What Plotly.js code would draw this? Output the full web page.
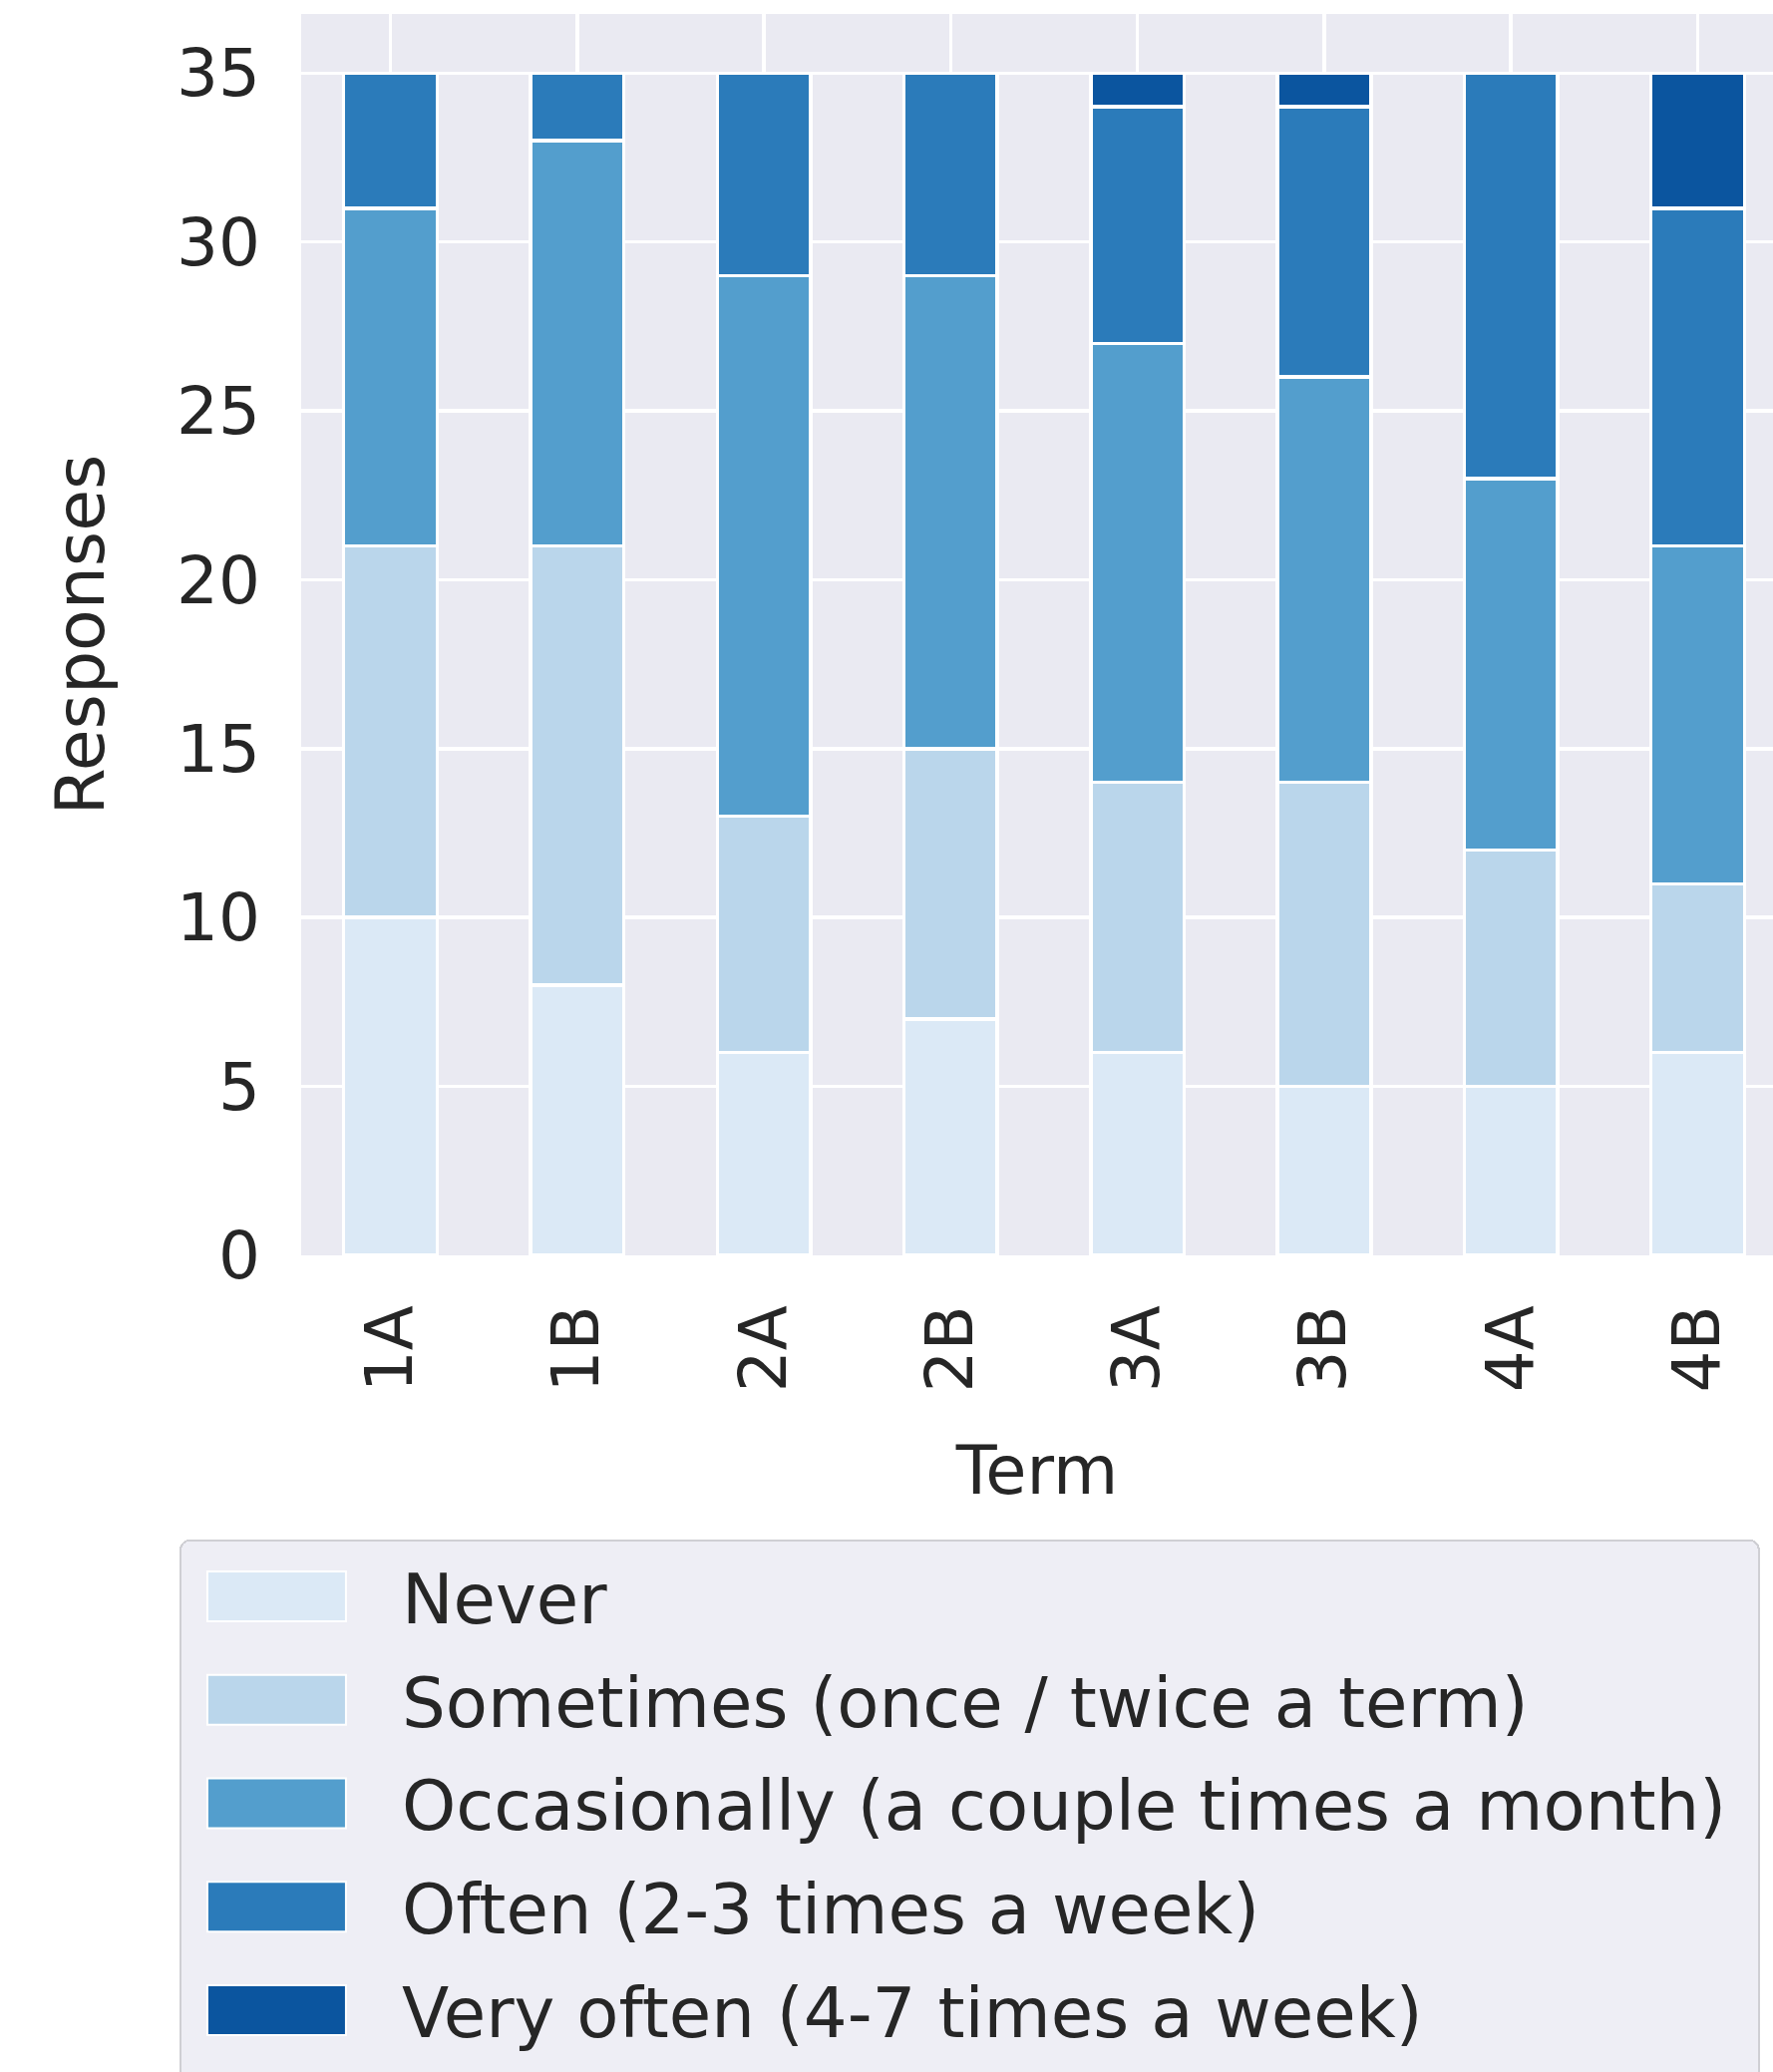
<!DOCTYPE html>
<html>
<head>
<meta charset="utf-8">
<script src="https://cdn.plot.ly/plotly-3.0.1.min.js"></script>
<style>
html,body{margin:0;padding:0;background:#ffffff;}
#chart{width:1778px;height:2078px;}
</style>
</head>
<body>
<div id="chart"></div>
<script>
// ---- data ----
const terms = ['1A', '1B', '2A', '2B', '3A', '3B', '4A', '4B'];
const seriesNames = [
  'Never',
  'Sometimes (once / twice a term)',
  'Occasionally (a couple times a month)',
  'Often (2-3 times a week)',
  'Very often (4-7 times a week)'
];
const never        = [10, 8, 6, 7, 6, 5, 5, 6];
const sometimes    = [11, 13, 7, 8, 8, 9, 7, 5];
const occasionally = [10, 12, 16, 14, 13, 12, 11, 10];
const often        = [4, 2, 6, 6, 7, 8, 12, 10];
const veryOften    = [0, 0, 0, 0, 1, 1, 0, 4];
const yTicks = [0, 5, 10, 15, 20, 25, 30, 35];

// ---- styles ----
const colors = ['#dbe9f6', '#bad6eb', '#539ecd', '#2b7bba', '#0b559f'];
const seriesValues = [never, sometimes, occasionally, often, veryOften];
const textColor = '#262626';
const fontFamily = 'DejaVu Sans, Liberation Sans, sans-serif';

const data = seriesValues.map((vals, i) => ({
  type: 'bar',
  name: seriesNames[i],
  x: terms,
  y: vals,
  legendgroup: 'g' + i,
  marker: {color: colors[i], line: {color: '#ffffff', width: 3.5}},
  hoverinfo: 'skip'
}));

const layout = {
  width: 1778,
  height: 2078,
  margin: {l: 302, r: 0, t: 14, b: 819, autoexpand: false},
  paper_bgcolor: '#ffffff',
  plot_bgcolor: '#eaeaf2',
  barmode: 'stack',
  bargap: 0.5,
  font: {family: fontFamily, color: textColor},
  xaxis: {
    type: 'category',
    range: [-0.478, 7.403],
    showgrid: true,
    gridcolor: '#ffffff',
    gridwidth: 3.5,
    zeroline: false,
    showline: false,
    ticks: '',
    tickangle: -90,
    tickfont: {size: 66, color: textColor, family: fontFamily},
    ticklabelstandoff: 36,
    automargin: false,
    title: {text: 'Term', font: {size: 67, color: textColor, family: fontFamily}, standoff: 55}
  },
  yaxis: {
    range: [0, 36.75],
    tickvals: yTicks,
    ticktext: yTicks.map(String),
    showgrid: true,
    gridcolor: '#ffffff',
    gridwidth: 3.5,
    zeroline: false,
    showline: false,
    ticks: '',
    tickfont: {size: 66, color: textColor, family: fontFamily},
    ticklabelstandoff: 40,
    automargin: false,
    title: {text: 'Responses', font: {size: 68, color: textColor, family: fontFamily}, standoff: 50}
  },
  showlegend: true,
  legend: {
    x: -0.0827,
    y: -0.2287,
    xanchor: 'left',
    yanchor: 'top',
    bgcolor: '#eeeef5',
    bordercolor: '#cfcfd4',
    borderwidth: 2,
    font: {size: 69, color: textColor, family: fontFamily},
    itemwidth: 211,
    traceorder: 'grouped',
    tracegroupgap: 11
  }
};

Plotly.newPlot('chart', data, layout, {staticPlot: true}).then(gd => {
  const bg = gd.querySelector('.legend .bg');
  if (!bg) return;
  bg.setAttribute('rx', 10);
  bg.setAttribute('ry', 10);
  const w = parseFloat(bg.getAttribute('width'));
  bg.setAttribute('width', w + 26);
  const h = parseFloat(bg.getAttribute('height'));
  bg.setAttribute('height', h + 60);
  const bgRect = bg.getBoundingClientRect();
  // shift legend entries down slightly so that rows sit where the reference puts them
  const scroll = gd.querySelector('.legend .scrollbox');
  gd.querySelectorAll('.legend .traces').forEach(tr => {
    const p = tr.querySelector('.legendpoints path');
    if (!p) return;
    p.setAttribute('d', 'M0,-25H139V25H0Z');
    const r = p.getBoundingClientRect();
    const dx = (bgRect.left + 27) - r.left;
    p.setAttribute('d', 'M' + dx + ',-25H' + (dx + 139) + 'V25H' + dx + 'Z');
    p.style.strokeWidth = '2px';
  });
  if (scroll) {
    const t = scroll.getAttribute('transform') || '';
    scroll.setAttribute('transform', t + ' translate(0,4)');
  }
});
</script>
</body>
</html>
